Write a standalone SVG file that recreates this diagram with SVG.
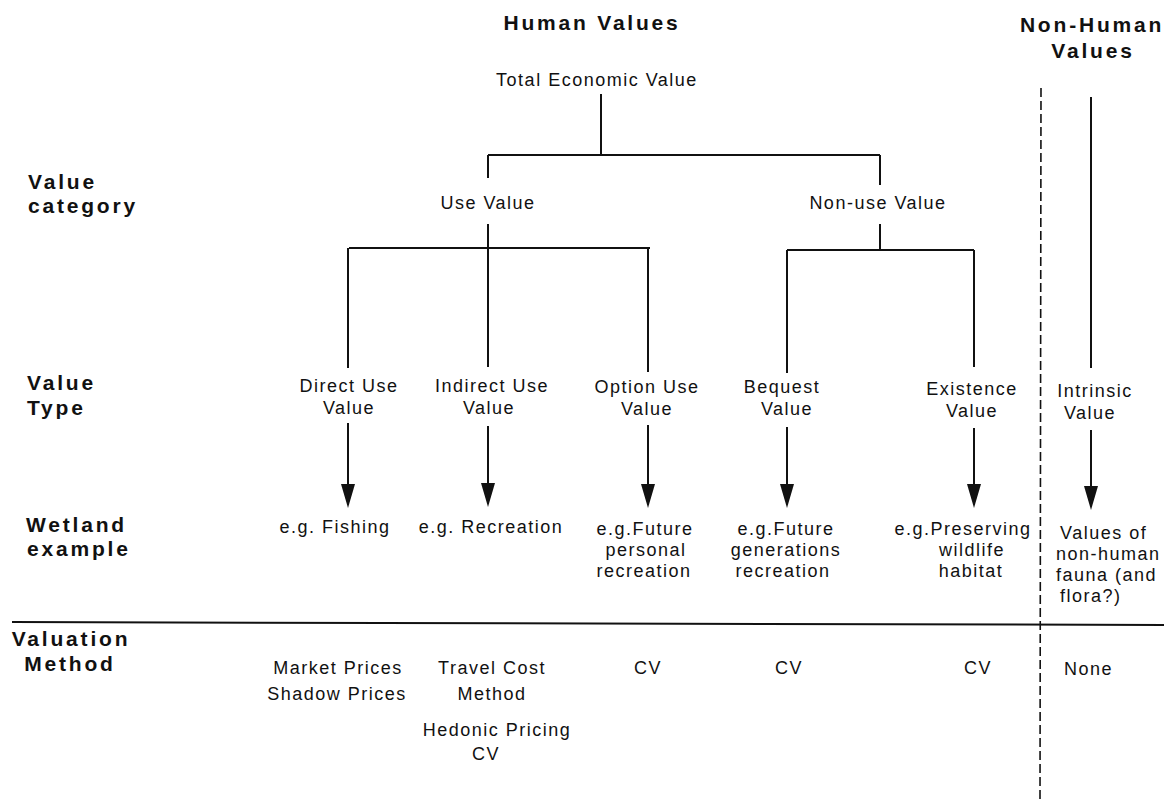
<svg xmlns="http://www.w3.org/2000/svg" width="1164" height="799" viewBox="0 0 1164 799">
<defs>
<style>
.t{font-family:"Liberation Sans",Arial,Helvetica,sans-serif;font-size:18px;letter-spacing:1.5px;fill:#111;text-anchor:middle}
.s{text-anchor:start}
.b{font-family:"Liberation Sans",Arial,Helvetica,sans-serif;font-size:21px;font-weight:bold;letter-spacing:2.8px;fill:#111}
.m{text-anchor:middle}
.ln{stroke:#111;stroke-width:2;fill:none}
.ar{stroke:#111;stroke-width:2;fill:none;marker-end:url(#ah)}
.dash{stroke:#111;stroke-width:1.6;stroke-dasharray:9 4;fill:none}
</style>
<marker id="ah" markerUnits="userSpaceOnUse" viewBox="0 0 24 14" refX="12" refY="7" markerWidth="24" markerHeight="14" orient="auto">
<path d="M0,0 L24,7 L0,14 z" fill="#111"/>
</marker>
</defs>
<rect width="1164" height="799" fill="#fff"/>

<g id="headers">
<text class="b m" x="592" y="30">Human Values</text>
<text class="b m" x="1092" y="32">Non-Human</text>
<text class="b m" x="1093" y="58">Values</text>
</g>

<g id="row-labels">
<text class="b" x="28" y="189">Value</text>
<text class="b" x="28" y="213">category</text>
<text class="b" x="27" y="390">Value</text>
<text class="b" x="27" y="415">Type</text>
<text class="b" x="26" y="532">Wetland</text>
<text class="b" x="27" y="556">example</text>
<text class="b m" x="71" y="646">Valuation</text>
<text class="b m" x="70" y="671">Method</text>
</g>

<g id="dividers">
<line class="ln" x1="12" y1="622" x2="1164" y2="625"/>
<line class="dash" x1="1041" y1="88" x2="1040" y2="799"/>
</g>

<g id="connectors">
<path class="ln" d="M601,94 V155 M488,155 H880 M488,155 V178 M880,155 V185"/>
<path class="ln" d="M488,224 V367 M349,248 H650 M348,248 V368 M648,248 V372"/>
<path class="ln" d="M880,224 V250 M787,250 H974 M787,250 V373 M974,250 V367"/>
<path class="ln" d="M1091,97 V368"/>
<line class="ar" x1="348" y1="423" x2="348" y2="496"/>
<line class="ar" x1="488" y1="426" x2="488" y2="495"/>
<line class="ar" x1="648" y1="425" x2="648" y2="496"/>
<line class="ar" x1="787" y1="427" x2="787" y2="496"/>
<line class="ar" x1="974" y1="428" x2="974" y2="496"/>
<line class="ar" x1="1091" y1="430" x2="1091" y2="498"/>
</g>

<g id="total-economic-value"><text class="t" x="597" y="86">Total Economic Value</text></g>
<g id="use-value"><text class="t" x="488" y="209">Use Value</text></g>
<g id="non-use-value"><text class="t" x="878" y="209">Non-use Value</text></g>

<g id="direct-use-value">
<text class="t" x="349" y="392">Direct Use</text>
<text class="t" x="349" y="414">Value</text>
</g>
<g id="indirect-use-value">
<text class="t" x="492" y="392">Indirect Use</text>
<text class="t" x="489" y="414">Value</text>
</g>
<g id="option-use-value">
<text class="t" x="647" y="393">Option Use</text>
<text class="t" x="647" y="415">Value</text>
</g>
<g id="bequest-value">
<text class="t" x="782" y="393">Bequest</text>
<text class="t" x="787" y="415">Value</text>
</g>
<g id="existence-value">
<text class="t" x="972" y="395">Existence</text>
<text class="t" x="972" y="417">Value</text>
</g>
<g id="intrinsic-value">
<text class="t" x="1095" y="397">Intrinsic</text>
<text class="t" x="1090" y="419">Value</text>
</g>

<g id="ex-fishing"><text class="t" x="335" y="533">e.g. Fishing</text></g>
<g id="ex-recreation"><text class="t" x="491" y="533">e.g. Recreation</text></g>
<g id="ex-future-personal">
<text class="t" x="645" y="535">e.g.Future</text>
<text class="t" x="646" y="556">personal</text>
<text class="t" x="644" y="577">recreation</text>
</g>
<g id="ex-future-generations">
<text class="t" x="786" y="535">e.g.Future</text>
<text class="t" x="786" y="556">generations</text>
<text class="t" x="783" y="577">recreation</text>
</g>
<g id="ex-wildlife">
<text class="t" x="963" y="535">e.g.Preserving</text>
<text class="t" x="972" y="556">wildlife</text>
<text class="t" x="971" y="577">habitat</text>
</g>
<g id="ex-nonhuman">
<text class="t s" x="1060" y="539">Values of</text>
<text class="t s" x="1056" y="560">non-human</text>
<text class="t s" x="1056" y="581">fauna (and</text>
<text class="t s" x="1060" y="602">flora?)</text>
</g>

<g id="method-direct">
<text class="t" x="338" y="674">Market Prices</text>
<text class="t" x="337" y="700">Shadow Prices</text>
</g>
<g id="method-indirect">
<text class="t" x="492" y="674">Travel Cost</text>
<text class="t" x="492" y="700">Method</text>
<text class="t" x="497" y="736">Hedonic Pricing</text>
<text class="t" x="486" y="760">CV</text>
</g>
<g id="method-option"><text class="t" x="648" y="674">CV</text></g>
<g id="method-bequest"><text class="t" x="789" y="674">CV</text></g>
<g id="method-existence"><text class="t" x="978" y="674">CV</text></g>
<g id="method-intrinsic"><text class="t s" x="1064" y="675">None</text></g>
</svg>
